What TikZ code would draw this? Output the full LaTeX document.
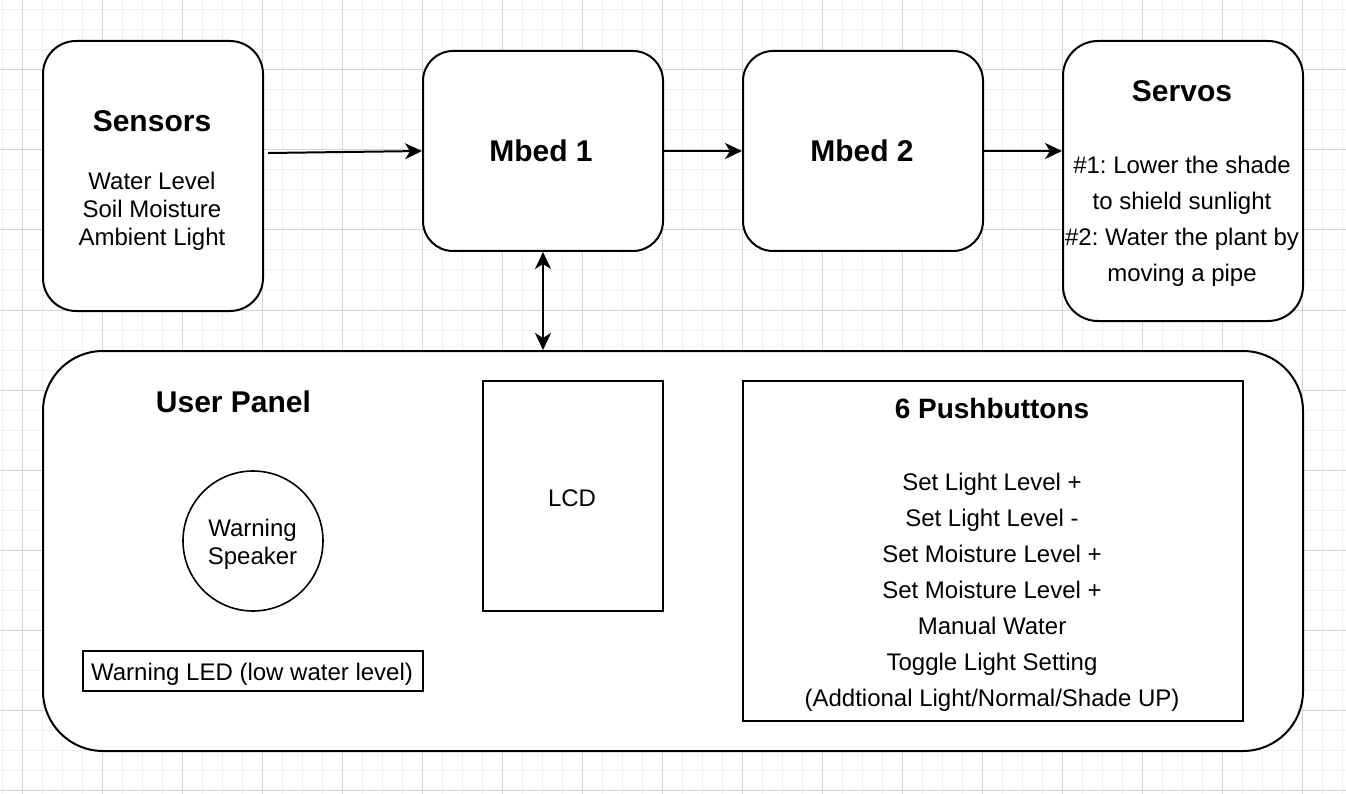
\documentclass[tikz,border=0pt]{standalone}
\usepackage{fontspec}
\setmainfont{Liberation Sans}
\usetikzlibrary{arrows.meta}
\frenchspacing
\begin{document}
\begin{tikzpicture}[x=1pt,y=-1pt,
  minorgrid/.style={draw=black!6, line width=1pt},
  majorgrid/.style={draw=black!17, line width=1pt},
  rbox/.style={draw=black, fill=white, line width=2pt, rectangle, inner sep=0pt},
  sqbox/.style={draw=black, fill=white, line width=2pt, rectangle, inner sep=0pt},
  ttl/.style={inner sep=0pt, anchor=base, font=\fontsize{30}{36}\selectfont\bfseries},
  ttlb/.style={inner sep=0pt, anchor=base, font=\fontsize{28}{34}\selectfont\bfseries},
  txt/.style={inner sep=0pt, anchor=base, align=center, font=\fontsize{24}{28}\selectfont},
  txtw/.style={inner sep=0pt, anchor=base, align=center, font=\fontsize{24}{36}\selectfont},
  arr/.style={line width=2pt, -{Stealth[length=17pt,width=16pt,inset=5pt]}},
  darr/.style={line width=2pt, {Stealth[length=17pt,width=16pt,inset=5pt]}-{Stealth[length=17pt,width=16pt,inset=5pt]}}
]
\useasboundingbox (0,0) rectangle (1346,794);
\fill[white] (0,0) rectangle (1346,794);
% grid
\foreach \i in {0,...,67} \draw[minorgrid] (2.7+20*\i,0) -- (2.7+20*\i,794);
\foreach \j in {0,...,39} \draw[minorgrid] (0,10+20*\j) -- (1346,10+20*\j);
\foreach \i in {0,...,16} \draw[majorgrid] (22.7+80*\i,0) -- (22.7+80*\i,794);
\foreach \j in {0,...,9} \draw[majorgrid] (0,70+80*\j) -- (1346,70+80*\j);

% boxes
\node[rbox, minimum width=220pt, minimum height=270pt, rounded corners=33pt] (sensors) at (153,176) {};
\node[rbox, minimum width=240pt, minimum height=200pt, rounded corners=30pt] (mbed1) at (543,151) {};
\node[rbox, minimum width=240pt, minimum height=200pt, rounded corners=30pt] (mbed2) at (863,151) {};
\node[rbox, minimum width=240pt, minimum height=280pt, rounded corners=35pt] (servos) at (1183,181) {};
\node[rbox, minimum width=1260pt, minimum height=400pt, rounded corners=60pt] (panel) at (673,551) {};
\node[sqbox, minimum width=180pt, minimum height=230pt] (lcd) at (573,496) {};
\node[sqbox, minimum width=500pt, minimum height=340pt] (push) at (993,551) {};
\node[draw=black, fill=white, line width=1.6pt, circle, minimum size=140pt, inner sep=0pt] (speaker) at (253,541) {};
\node[sqbox, minimum width=340pt, minimum height=40pt] (led) at (253,671) {};

% texts (base anchor = baseline of the last line)
\node[ttl] (sensorsT) at (152,132) {Sensors};
\node[txt] (sensorsL) at (152,246) {Water Level\\Soil Moisture\\Ambient Light};
\node[ttl] (mbed1T) at (541,162) {Mbed 1};
\node[ttl] (mbed2T) at (862,162) {Mbed 2};
\node[ttl] (servosT) at (1182,102) {Servos};
\node[txtw] (servosL) at (1182,281.5) {\#1: Lower the shade\\to shield sunlight\\\#2: Water the plant by\\moving a pipe};
\node[ttl] (panelT) at (233.5,412) {User Panel};
\node[txt] (lcdT) at (572,506) {LCD};
\node[txt] (speakerT) at (252.5,564) {Warning\\Speaker};
\node[txt] (ledT) at (252,680) {Warning LED (low water level)};
\node[ttlb] (pushT) at (992,418) {6 Pushbuttons};
\node[txtw] (pushL) at (992,706) {Set Light Level +\\Set Light Level -\\Set Moisture Level +\\Set Moisture Level +\\Manual Water\\Toggle Light Setting\\(Addtional Light/Normal/Shade UP)};

% connectors
\coordinate (sstart) at (268,153);
\draw[arr] (sstart) -- (mbed1.west);
\draw[arr] (mbed1.east) -- (mbed2.west);
\draw[arr] (mbed2.east) -- (servos.west |- mbed2.east);
\draw[darr] (mbed1.south) -- (mbed1.south |- panel.north);
\end{tikzpicture}
\end{document}
